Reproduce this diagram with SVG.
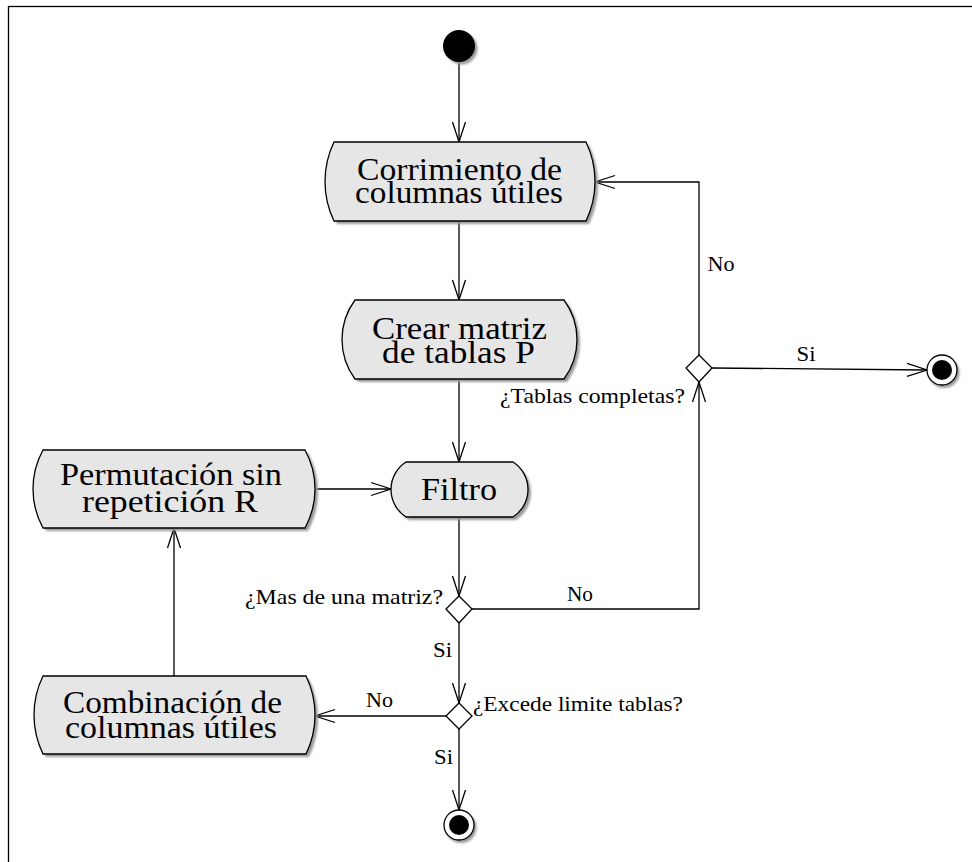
<svg xmlns="http://www.w3.org/2000/svg" width="972" height="862" viewBox="0 0 972 862">
  <defs>
    <filter id="soft" x="-20%" y="-20%" width="140%" height="140%">
      <feGaussianBlur stdDeviation="1.2"/>
    </filter>
    <marker id="open" viewBox="-21 -8 23 16" refX="0" refY="0" markerWidth="23" markerHeight="16" markerUnits="userSpaceOnUse" orient="auto" overflow="visible">
      <path d="M -20 -6.5 L 0 0 L -20 6.5" fill="none" stroke="#000" stroke-width="1.3"/>
    </marker>
  </defs>
  <style>
    .act { fill: #e6e6e6; stroke: #000; stroke-width: 1.3; }
    .shadow { fill: #9a9a9a; filter: url(#soft); }
    .big { font-family: "Liberation Serif", "Times New Roman", serif; font-size: 31px; text-anchor: middle; fill: #000; }
    .lbl { font-family: "Liberation Serif", "Times New Roman", serif; font-size: 21px; fill: #000; }
    .edge { fill: none; stroke: #000; stroke-width: 1.3; }
    .arrow { marker-end: url(#open); }
    .dec { fill: #fff; stroke: #000; stroke-width: 1.3; }
  </style>
  <rect width="972" height="862" fill="#fff"/>

  <!-- outer frame -->
  <rect x="8.5" y="6.5" width="980" height="880" fill="none" stroke="#000" stroke-width="1.3"/>

  <!-- connectors -->
  <g id="connectors">
    <path class="edge arrow" d="M 459 62 V 142"/>
    <path class="edge arrow" d="M 459 221 V 300"/>
    <path class="edge arrow" d="M 459 379 V 462"/>
    <path class="edge arrow" d="M 315 489 H 391"/>
    <path class="edge arrow" d="M 459 517 V 596"/>
    <path class="edge arrow" d="M 459 623 V 703"/>
    <path class="edge arrow" d="M 446 716 H 315"/>
    <path class="edge arrow" d="M 174 676 V 528"/>
    <path class="edge arrow" d="M 459 729 V 810"/>
    <path class="edge arrow" d="M 472 609 H 699 V 382"/>
    <path class="edge arrow" d="M 699 356 V 182 H 595"/>
    <path class="edge arrow" d="M 712 368 L 927 370"/>

    <text class="lbl" x="442.5" y="657" text-anchor="middle" textLength="19" lengthAdjust="spacingAndGlyphs">Si</text>
    <text class="lbl" x="443.5" y="764" text-anchor="middle" textLength="19" lengthAdjust="spacingAndGlyphs">Si</text>
    <text class="lbl" x="806" y="361" text-anchor="middle" textLength="19" lengthAdjust="spacingAndGlyphs">Si</text>
    <text class="lbl" x="580" y="601" text-anchor="middle" textLength="26" lengthAdjust="spacingAndGlyphs">No</text>
    <text class="lbl" x="379.5" y="707" text-anchor="middle" textLength="27" lengthAdjust="spacingAndGlyphs">No</text>
    <text class="lbl" x="721" y="271" text-anchor="middle" textLength="27" lengthAdjust="spacingAndGlyphs">No</text>
  </g>

  <!-- start -->
  <g id="start">
    <circle cx="461.5" cy="48.5" r="16" class="shadow"/>
    <circle cx="459" cy="46" r="16" fill="#000"/>
  </g>

  <!-- Corrimiento de columnas utiles -->
  <g id="corrimiento">
    <path class="shadow" transform="translate(3,3)" d="M 334 142 H 586 A 91.2 91.2 0 0 1 586 221 H 334 A 91.2 91.2 0 0 1 334 142 Z"/>
    <path class="act" d="M 334 142 H 586 A 91.2 91.2 0 0 1 586 221 H 334 A 91.2 91.2 0 0 1 334 142 Z"/>
    <text class="big" x="459.5" y="180" textLength="205" lengthAdjust="spacingAndGlyphs">Corrimiento de</text>
    <text class="big" x="459" y="203" textLength="208" lengthAdjust="spacingAndGlyphs">columnas útiles</text>
  </g>

  <!-- Crear matriz de tablas P -->
  <g id="crear">
    <path class="shadow" transform="translate(3,3)" d="M 355 300 H 564 A 66.5 66.5 0 0 1 564 379 H 355 A 66.5 66.5 0 0 1 355 300 Z"/>
    <path class="act" d="M 355 300 H 564 A 66.5 66.5 0 0 1 564 379 H 355 A 66.5 66.5 0 0 1 355 300 Z"/>
    <text class="big" x="459.5" y="339" textLength="175" lengthAdjust="spacingAndGlyphs">Crear matriz</text>
    <text class="big" x="458.5" y="363" textLength="153" lengthAdjust="spacingAndGlyphs">de tablas P</text>
  </g>

  <!-- Filtro -->
  <g id="filtro">
    <path class="shadow" transform="translate(3,3)" d="M 406 462 H 513 A 32.7 32.7 0 0 1 513 517 H 406 A 32.7 32.7 0 0 1 406 462 Z"/>
    <path class="act" d="M 406 462 H 513 A 32.7 32.7 0 0 1 513 517 H 406 A 32.7 32.7 0 0 1 406 462 Z"/>
    <text class="big" x="459" y="500" textLength="76" lengthAdjust="spacingAndGlyphs">Filtro</text>
  </g>

  <!-- Permutacion sin repeticion R -->
  <g id="permutacion">
    <path class="shadow" transform="translate(3,3)" d="M 43 450 H 305 A 81 81 0 0 1 305 528 H 43 A 81 81 0 0 1 43 450 Z"/>
    <path class="act" d="M 43 450 H 305 A 81 81 0 0 1 305 528 H 43 A 81 81 0 0 1 43 450 Z"/>
    <text class="big" x="171" y="485" textLength="222" lengthAdjust="spacingAndGlyphs">Permutación sin</text>
    <text class="big" x="170" y="512" textLength="176" lengthAdjust="spacingAndGlyphs">repetición R</text>
  </g>

  <!-- Combinacion de columnas utiles -->
  <g id="combinacion">
    <path class="shadow" transform="translate(3,3)" d="M 43 676 H 306 A 89 89 0 0 1 306 754 H 43 A 89 89 0 0 1 43 676 Z"/>
    <path class="act" d="M 43 676 H 306 A 89 89 0 0 1 306 754 H 43 A 89 89 0 0 1 43 676 Z"/>
    <text class="big" x="172.5" y="713" textLength="219" lengthAdjust="spacingAndGlyphs">Combinación de</text>
    <text class="big" x="171" y="738" textLength="212" lengthAdjust="spacingAndGlyphs">columnas útiles</text>
  </g>

  <!-- decision: mas de una matriz -->
  <g id="dec-matriz">
    <path class="dec" d="M 459 596 L 472 609 L 459 623 L 446 609 Z"/>
    <text class="lbl" x="443" y="604" text-anchor="end" textLength="198" lengthAdjust="spacingAndGlyphs">¿Mas de una matriz?</text>
  </g>

  <!-- decision: excede limite -->
  <g id="dec-excede">
    <path class="dec" d="M 459 703 L 472 716 L 459 729 L 446 716 Z"/>
    <text class="lbl" x="473" y="711" textLength="210" lengthAdjust="spacingAndGlyphs">¿Excede limite tablas?</text>
  </g>

  <!-- decision: tablas completas -->
  <g id="dec-tablas">
    <path class="dec" d="M 699 355 L 712 368 L 699 382 L 686 368 Z"/>
    <text class="lbl" x="685" y="403" text-anchor="end" textLength="185" lengthAdjust="spacingAndGlyphs">¿Tablas completas?</text>
  </g>

  <!-- final nodes -->
  <g id="end-right">
    <circle cx="944" cy="372.5" r="15.5" class="shadow"/>
    <circle cx="942" cy="370" r="15" fill="#fff" stroke="#000" stroke-width="1.3"/>
    <circle cx="942" cy="370" r="10" fill="#000"/>
  </g>
  <g id="end-bottom">
    <circle cx="461" cy="827.5" r="15.5" class="shadow"/>
    <circle cx="459" cy="825" r="15" fill="#fff" stroke="#000" stroke-width="1.3"/>
    <circle cx="459" cy="825" r="10" fill="#000"/>
  </g>
</svg>
